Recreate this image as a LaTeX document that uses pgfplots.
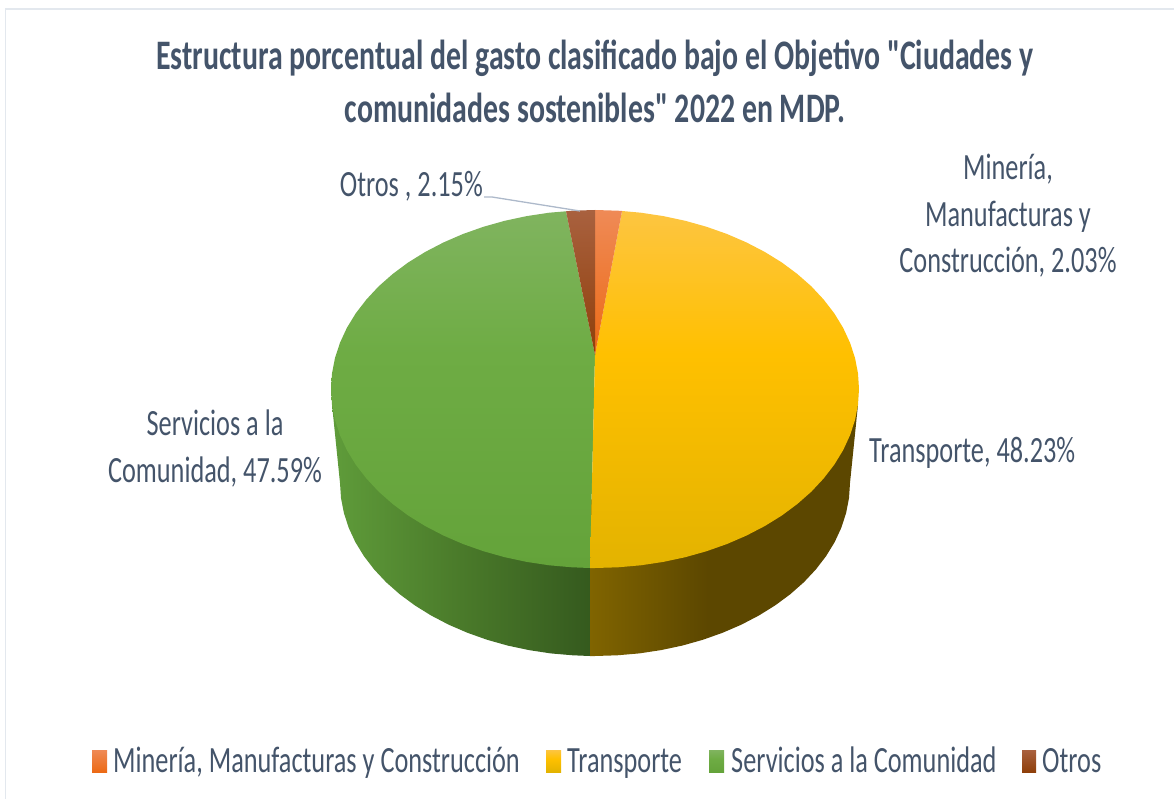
\documentclass[border=0pt]{standalone}
\usepackage{pgfplots}
\pgfplotsset{compat=1.18}
\usepackage{fontspec}
\newfontfamily\cf[FakeStretch=0.71]{Carlito}
\definecolor{txt}{HTML}{44546A}
\definecolor{frameline}{HTML}{E3E8EE}
\definecolor{leader}{HTML}{ADB9CA}
\definecolor{yA}{HTML}{FDC541}\definecolor{yB}{HTML}{FFC000}\definecolor{yC}{HTML}{E3B300}
\definecolor{gA}{HTML}{80B45F}\definecolor{gB}{HTML}{6EAC44}\definecolor{gC}{HTML}{64A33A}
\definecolor{oA}{HTML}{EF8A56}\definecolor{oB}{HTML}{EC6A15}
\definecolor{bA}{HTML}{A9613F}\definecolor{bB}{HTML}{8F3F0A}
\definecolor{sgA}{HTML}{5F9C3A}\definecolor{sgB}{HTML}{4A7A2A}\definecolor{sgC}{HTML}{355A1E}
\definecolor{syA}{HTML}{806400}\definecolor{syB}{HTML}{5C4700}
\pgfdeclareverticalshading{ytop}{100bp}{color(0bp)=(yC); color(25bp)=(yC); color(55bp)=(yB); color(75bp)=(yA); color(100bp)=(yA)}
\pgfdeclareverticalshading{gtop}{100bp}{color(0bp)=(gC); color(25bp)=(gC); color(55bp)=(gB); color(75bp)=(gA); color(100bp)=(gA)}
\pgfdeclareverticalshading{otop}{100bp}{color(0bp)=(oB); color(25bp)=(oB); color(75bp)=(oA); color(100bp)=(oA)}
\pgfdeclareverticalshading{btop}{100bp}{color(0bp)=(bB); color(25bp)=(bB); color(75bp)=(bA); color(100bp)=(bA)}
\pgfdeclarehorizontalshading{gside}{100bp}{color(0bp)=(sgA); color(25bp)=(sgA); color(50bp)=(sgB); color(75bp)=(sgC); color(100bp)=(sgC)}
\pgfdeclarehorizontalshading{yside}{100bp}{color(0bp)=(syA); color(25bp)=(syA); color(47bp)=(syB); color(100bp)=(syB)}
\newcommand{\lab}{\cf\fontsize{37}{37}\selectfont\color{txt}}
\begin{document}
\begin{tikzpicture}
\useasboundingbox (0,0) rectangle (1174pt,799pt);
\begin{axis}[hide axis, scale only axis, width=1174pt, height=799pt,
  xmin=0, xmax=1174, ymin=0, ymax=799, y dir=reverse, clip=false]
% frame
\addplot[frameline, line width=1.6pt] coordinates {(5.5,799)(5.5,9)(1174,9)};
% side walls
\addplot[draw=none, shade, shading=gside] coordinates {(332,404.6)(340,483)(341,498.1)(343.9,513)(348.7,527.8)(355.4,542.2)(363.9,556.1)(374.2,569.5)(386.1,582.2)(399.7,594.2)(414.7,605.3)(431.1,615.5)(448.7,624.7)(467.5,632.8)(487.2,639.8)(507.8,645.6)(529,650.1)(550.7,653.4)(572.8,655.3)(590,656)(590,500)(332,404.6)};
\addplot[draw=none, shade, shading=yside] coordinates {(590,656)(595,656)(617.2,655.3)(639.3,653.4)(661,650.1)(682.2,645.6)(702.8,639.8)(722.5,632.8)(741.3,624.7)(758.9,615.5)(775.3,605.3)(790.3,594.2)(803.9,582.2)(815.8,569.5)(826.1,556.1)(834.6,542.2)(841.3,527.8)(846.1,513)(849,498.1)(850,483)(858,404.6)(590,500)(590,656)};
% top face: Servicios a la Comunidad 47.59
\addplot[draw=none, shade, shading=gtop] coordinates {(595,355)(590,568)(572,567.3)(549.2,565.3)(526.7,561.9)(504.7,557.2)(483.4,551.2)(463,544)(443.6,535.6)(425.3,526.1)(408.3,515.6)(392.8,504.1)(378.7,491.7)(366.4,478.5)(355.7,464.6)(346.9,450.2)(340,435.3)(335,420.1)(332,404.6)(331,389)(332,373.4)(335,357.9)(340,342.7)(346.9,327.8)(355.7,313.4)(366.4,299.5)(378.7,286.3)(392.8,273.9)(408.3,262.4)(425.3,251.9)(443.6,242.4)(463,234)(483.4,226.8)(504.7,220.8)(526.7,216.1)(549.2,212.7)(566,211.3)(595,355)};
% top face: Transporte 48.23
\addplot[draw=none, shade, shading=ytop] coordinates {(595,355)(622,211)(640.8,212.7)(663.3,216.1)(685.3,220.8)(706.6,226.8)(727,234)(746.4,242.4)(764.7,251.9)(781.7,262.4)(797.2,273.9)(811.3,286.3)(823.6,299.5)(834.3,313.4)(843.1,327.8)(850,342.7)(855,357.9)(858,373.4)(859,389)(858,404.6)(855,420.1)(850,435.3)(843.1,450.2)(834.3,464.6)(823.6,478.5)(811.3,491.7)(797.2,504.1)(781.7,515.6)(764.7,526.1)(746.4,535.6)(727,544)(706.6,551.2)(685.3,557.2)(663.3,561.9)(640.8,565.3)(618,567.3)(595,568)(590,568)(595,355)};
% top face: Mineria 2.03
\addplot[draw=none, shade, shading=otop] coordinates {(595,355)(595,210)(618,210.7)(622,211)(595,355)};
% top face: Otros 2.15
\addplot[draw=none, shade, shading=btop] coordinates {(595,355)(566,211.3)(572,210.7)(595,210)(595,355)};
% leader
\addplot[leader, line width=1.3pt] coordinates {(484,197)(492,197)(580,211)};
% legend swatches
\addplot[draw=none, shade, shading=otop] coordinates {(92,750)(107,750)(107,772)(92,772)(92,750)};
\addplot[draw=none, shade, shading=ytop] coordinates {(546,750)(561,750)(561,772)(546,772)(546,750)};
\addplot[draw=none, shade, shading=gtop] coordinates {(709,750)(724,750)(724,772)(709,772)(709,750)};
\addplot[draw=none, shade, shading=btop] coordinates {(1022,750)(1036,750)(1036,772)(1022,772)(1022,750)};
% title
\node[anchor=base, inner sep=0pt, text=txt] at (axis cs:595,70) {\cf\fontsize{42}{42}\selectfont\bfseries Estructura porcentual del gasto clasificado bajo el Objetivo "Ciudades y};
\node[anchor=base, inner sep=0pt, text=txt] at (axis cs:595,123) {\cf\fontsize{42}{42}\selectfont\bfseries comunidades sostenibles" 2022 en MDP.};
% data labels
\node[anchor=base east, inner sep=0pt] at (axis cs:483,197) {\lab Otros , 2.15\%};
\node[anchor=base, inner sep=0pt] at (axis cs:1008,180) {\lab Minería,};
\node[anchor=base, inner sep=0pt] at (axis cs:1008,227) {\lab Manufacturas y};
\node[anchor=base, inner sep=0pt] at (axis cs:1008,273) {\lab Construcción, 2.03\%};
\node[anchor=base, inner sep=0pt] at (axis cs:215,435) {\lab Servicios a la};
\node[anchor=base, inner sep=0pt] at (axis cs:215,482) {\lab Comunidad, 47.59\%};
\node[anchor=base west, inner sep=0pt] at (axis cs:869,462) {\lab Transporte, 48.23\%};
% legend text
\node[anchor=base west, inner sep=0pt] at (axis cs:113,772) {\lab Minería, Manufacturas y Construcción};
\node[anchor=base west, inner sep=0pt] at (axis cs:567,772) {\lab Transporte};
\node[anchor=base west, inner sep=0pt] at (axis cs:731,772) {\lab Servicios a la Comunidad};
\node[anchor=base west, inner sep=0pt] at (axis cs:1042,772) {\lab Otros};
\end{axis}
\end{tikzpicture}
\end{document}
